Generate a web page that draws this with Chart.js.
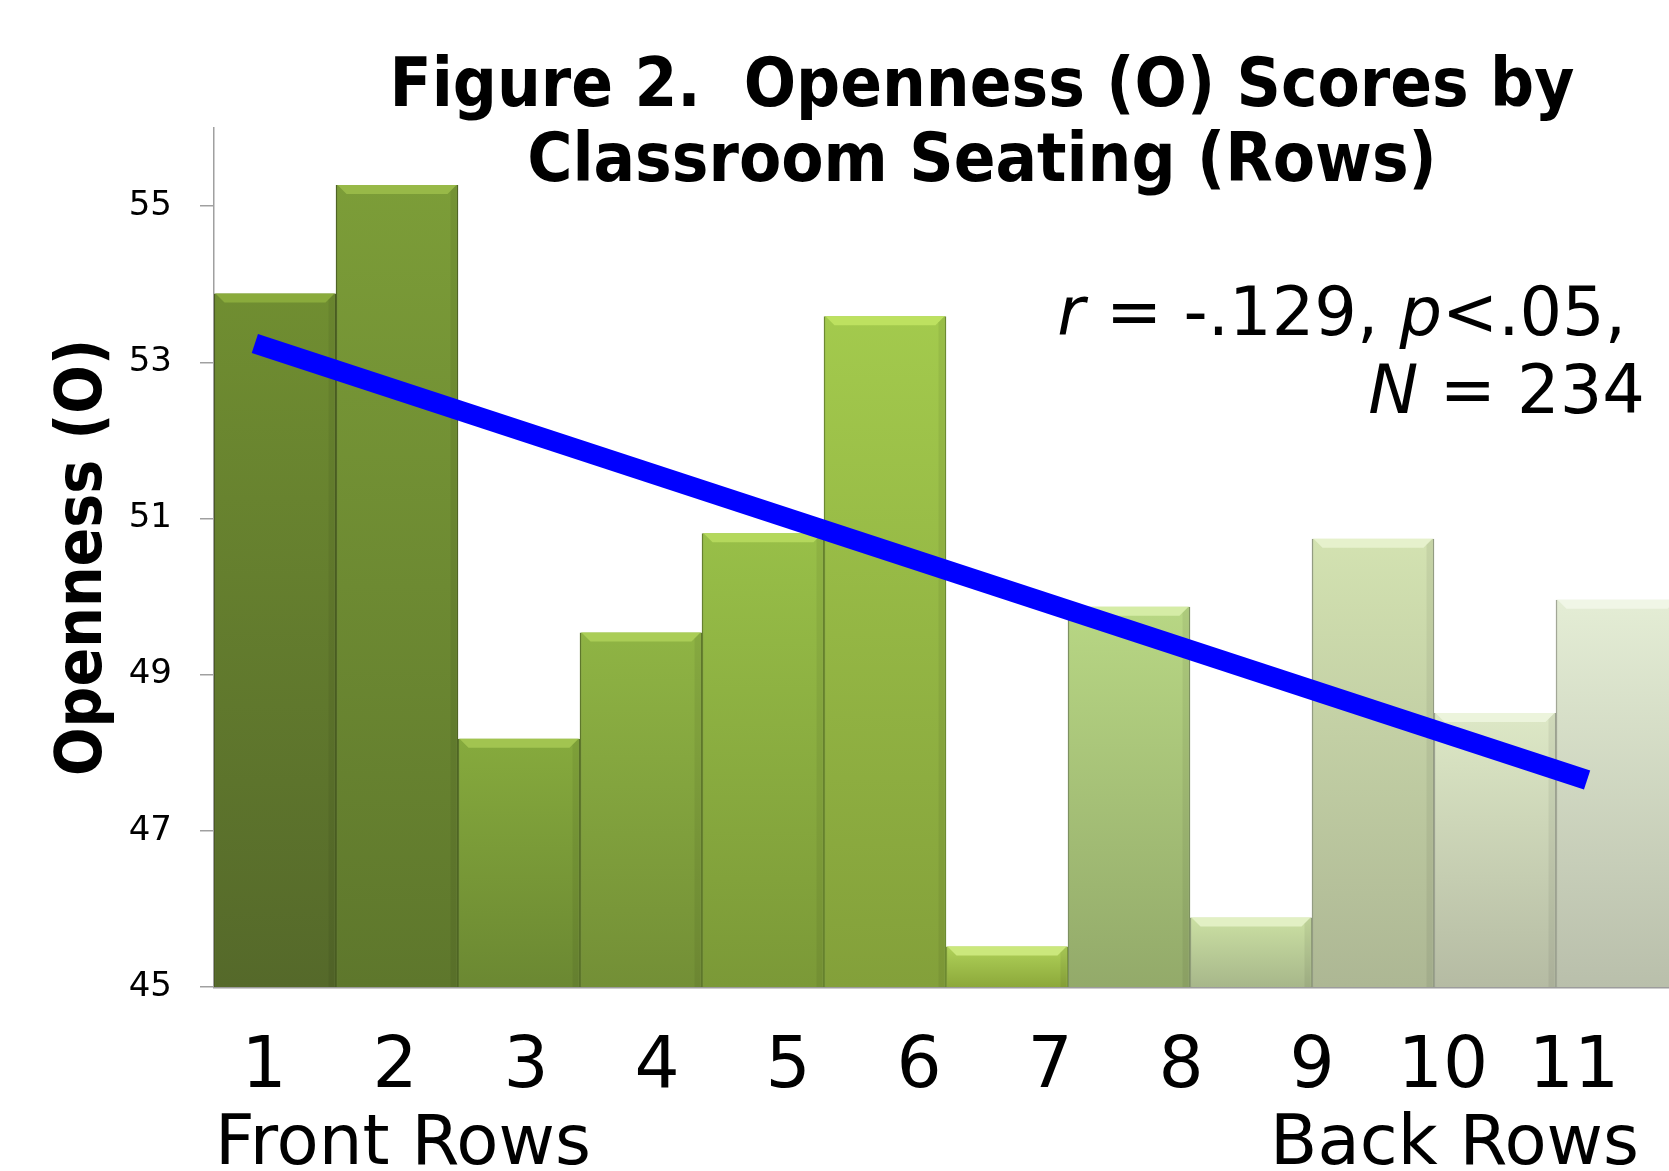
<!DOCTYPE html>
<html>
<head>
<meta charset="utf-8">
<script src="https://cdn.jsdelivr.net/npm/chart.js@4.4.1/dist/chart.umd.min.js"></script>
<style>
  html, body { margin: 0; padding: 0; background: #ffffff; overflow: hidden; }
  #wrap { width: 1669px; height: 1171px; overflow: hidden; position: relative; }
  canvas { display: block; }
</style>
</head>
<body>
<div id="wrap"><canvas id="chart" width="1700" height="1171"></canvas></div>
<script>
// Mean Openness (O) score for each classroom seating row
const seatRows = ['1', '2', '3', '4', '5', '6', '7', '8', '9', '10', '11', '12'];
const opennessScores = [53.88, 55.27, 48.18, 49.54, 50.81, 53.59, 45.52, 49.87, 45.89, 50.74, 48.51, 49.96];

// Row numbers printed under the bars
const rowLabels = ['1', '2', '3', '4', '5', '6', '7', '8', '9', '10', '11'];

// Value axis ticks
const yTicks = [45, 47, 49, 51, 53, 55];

// Linear trend (row number -> score)
const trendRows = [0.93, 11.1];
const trendScores = [53.24, 47.65];

const titleLines = ['Figure 2.  Openness (O) Scores by', 'Classroom Seating (Rows)'];
const yAxisTitle = 'Openness (O)';
const frontLabel = 'Front Rows';
const backLabel = 'Back Rows';

// Bar shades, dark olive at the front fading to pale sage at the back
const barTop    = ['#708e31', '#7c9d38', '#86aa3d', '#8fb444', '#98bf48', '#a3ca4d', '#b0d25a', '#b8d784', '#cbe0a3', '#d3e2b1', '#dde8c6', '#e4edd5'];
const barBottom = ['#55692a', '#5e772c', '#6b8832', '#738f36', '#7b9937', '#83a03a', '#8ca83a', '#93aa6a', '#a7b78a', '#adb794', '#b5bba3', '#b9bfab'];
const barBevel  = ['#8aab3c', '#98b948', '#a2c450', '#aacd56', '#b4d85c', '#bde160', '#cbe87c', '#d5eca6', '#e2f0c4', '#e6f1cc', '#ecf4dc', '#f0f6e6'];
const barEdge   = ['#4a5c22', '#4f6424', '#58712a', '#5e772c', '#66812f', '#6c8a31', '#7a9636', '#7d9160', '#8f9d78', '#939c82', '#9ca290', '#a2a796'];

const SANS = "'DejaVu Sans', Verdana, sans-serif";
const SANS_BOLD = "'DejaVu Sans Condensed', 'DejaVu Sans', Verdana, sans-serif";

function barGradient(ctx) {
  const chart = ctx.chart;
  const i = ctx.dataIndex;
  const area = chart.chartArea;
  if (!area || i === undefined) return barTop[i || 0];
  const yTop = chart.scales.y.getPixelForValue(opennessScores[i]);
  const g = chart.ctx.createLinearGradient(0, yTop, 0, area.bottom);
  g.addColorStop(0, barTop[i]);
  g.addColorStop(1, barBottom[i]);
  return g;
}

// Chamfered highlight along the top of each bar, plus a soft right-hand shade
const bevelPlugin = {
  id: 'bevel',
  afterDatasetDraw(chart, args) {
    if (args.index !== 0) return;
    const ctx = chart.ctx;
    const area = chart.chartArea;
    const depth = 9;
    ctx.save();
    ctx.beginPath();
    ctx.rect(area.left, area.top, area.right - area.left, area.bottom - area.top);
    ctx.clip();
    args.meta.data.forEach((bar, i) => {
      const p = bar.getProps(['x', 'y', 'width'], true);
      const l = p.x - p.width / 2 + 1.5, r = p.x + p.width / 2 - 1.5;
      ctx.beginPath();
      ctx.moveTo(l, p.y);
      ctx.lineTo(r, p.y);
      ctx.lineTo(r - depth, p.y + depth);
      ctx.lineTo(l + depth, p.y + depth);
      ctx.closePath();
      ctx.fillStyle = barBevel[i];
      ctx.fill();
      ctx.fillStyle = 'rgba(0,0,0,0.06)';
      ctx.beginPath();
      ctx.moveTo(r, p.y);
      ctx.lineTo(r, area.bottom);
      ctx.lineTo(r - 6, area.bottom);
      ctx.lineTo(r - 6, p.y + 6);
      ctx.closePath();
      ctx.fill();
    });
    ctx.restore();
  }
};

// Figure title, row group captions and the correlation note
const textPlugin = {
  id: 'figureText',
  afterDraw(chart) {
    const ctx = chart.ctx;
    ctx.save();
    ctx.fillStyle = '#000';
    ctx.textBaseline = 'alphabetic';

    ctx.font = `bold 68.5px ${SANS_BOLD}`;
    ctx.textAlign = 'center';
    ctx.fillText(titleLines[0], 982, 106);
    ctx.fillText(titleLines[1], 982, 181);

    ctx.font = `69px ${SANS}`;
    ctx.textAlign = 'left';
    ctx.fillText(frontLabel, 215, 1164);
    ctx.textAlign = 'right';
    ctx.fillText(backLabel, 1639, 1164);

    const drawRuns = (runs, right, baseline) => {
      let x = right;
      for (let k = runs.length - 1; k >= 0; k--) {
        const [txt, italic] = runs[k];
        ctx.font = `${italic ? 'italic ' : ''}67px ${SANS}`;
        ctx.textAlign = 'right';
        ctx.fillText(txt, x, baseline);
        x -= ctx.measureText(txt).width;
      }
    };
    drawRuns([['r', true], [' = -.129, ', false], ['p', true], ['<.05,', false]], 1626, 335);
    drawRuns([['N', true], [' = 234', false]], 1645, 413);
    ctx.restore();
  }
};

new Chart(document.getElementById('chart'), {
  type: 'bar',
  data: {
    labels: seatRows,
    datasets: [
      {
        type: 'bar',
        label: 'Openness',
        data: opennessScores,
        xAxisID: 'x',
        yAxisID: 'y',
        backgroundColor: barGradient,
        borderColor: barEdge,
        borderWidth: { left: 1.5, right: 1.5, top: 0, bottom: 0 },
        grouped: false,
        barPercentage: 1,
        categoryPercentage: 1,
        order: 2
      },
      {
        type: 'line',
        label: 'Trend',
        data: trendRows.map((r, i) => ({ x: r, y: trendScores[i] })),
        xAxisID: 'xl',
        yAxisID: 'y',
        borderColor: '#0000ff',
        borderWidth: 20,
        borderCapStyle: 'butt',
        pointRadius: 0,
        fill: false,
        order: 1
      }
    ]
  },
  options: {
    responsive: false,
    animation: false,
    devicePixelRatio: 1,
    layout: { padding: { left: 0, right: 22, top: 128, bottom: 0 } },
    plugins: {
      legend: { display: false },
      title: { display: false },
      tooltip: { enabled: false }
    },
    scales: {
      x: {
        type: 'category',
        offset: true,
        grid: { display: true, drawOnChartArea: false, drawTicks: false },
        border: { display: true, color: '#9c9c9c', width: 2.5 },
        ticks: { display: false }
      },
      xl: {
        type: 'linear',
        position: 'bottom',
        offset: false,
        min: 0.618,
        max: 11.794,
        afterBuildTicks: s => { s.ticks = rowLabels.map((_, i) => ({ value: i + 1 })); },
        afterFit: s => { s.height = 184; },
        grid: { display: false, offset: false },
        border: { display: false },
        ticks: {
          autoSkip: false,
          maxRotation: 0,
          padding: 31,
          color: '#000',
          font: { family: SANS, size: 71 },
          callback: v => rowLabels[Math.round(v) - 1]
        }
      },
      y: {
        type: 'linear',
        min: 45,
        max: 56,
        afterBuildTicks: s => { s.ticks = yTicks.map(v => ({ value: v })); },
        afterFit: s => { s.width = 214; },
        grid: { drawOnChartArea: false, drawTicks: true, tickLength: 14, color: '#a0a0a0', lineWidth: 1.5 },
        border: { display: true, color: '#a0a0a0', width: 1.5 },
        ticks: { padding: 28, color: '#000', font: { family: SANS, size: 34 } },
        title: {
          display: true,
          text: yAxisTitle,
          color: '#000',
          font: { family: SANS_BOLD, size: 63.5, weight: 'bold' },
          padding: { top: 46, bottom: 0 }
        }
      }
    }
  },
  plugins: [bevelPlugin, textPlugin]
});
</script>
</body>
</html>
